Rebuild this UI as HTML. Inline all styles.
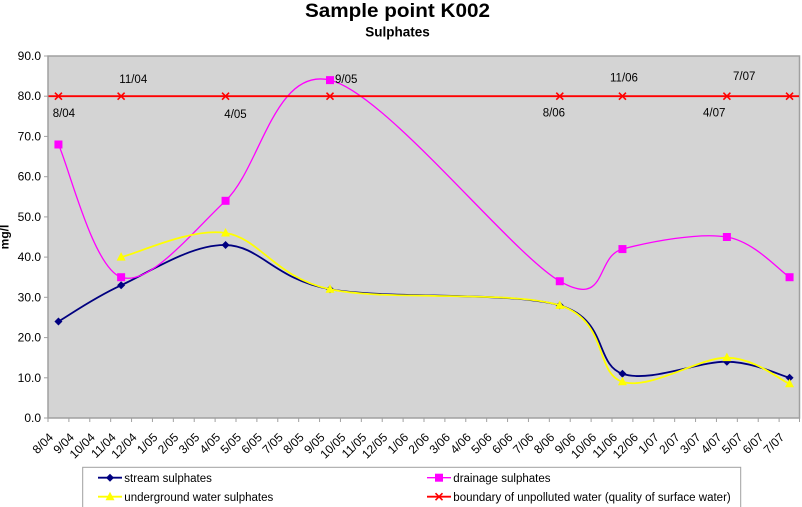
<!DOCTYPE html>
<html>
<head>
<meta charset="utf-8">
<style>
html,body{margin:0;padding:0;background:#fff;}
svg{display:block;font-family:"Liberation Sans",Arial,sans-serif;}
</style>
</head>
<body>
<svg width="802" height="507" viewBox="0 0 802 507" xmlns="http://www.w3.org/2000/svg">
<rect width="802" height="507" fill="#fff"/>
<!-- Titles -->
<text x="397.5" y="17" font-size="19.5" font-weight="bold" text-anchor="middle" textLength="185" lengthAdjust="spacingAndGlyphs">Sample point K002</text>
<text x="397.5" y="36.5" font-size="13.5" font-weight="bold" text-anchor="middle">Sulphates</text>

<!-- Plot area -->
<rect x="48" y="56" width="751.5" height="362" fill="#d4d4d4" stroke="#a0a0a0" stroke-width="1.5"/>

<!-- Y axis ticks and labels -->
<g stroke="#a0a0a0" stroke-width="1">
<line x1="44" y1="56" x2="48" y2="56"/><line x1="44" y1="96.2" x2="48" y2="96.2"/>
<line x1="44" y1="136.4" x2="48" y2="136.4"/><line x1="44" y1="176.7" x2="48" y2="176.7"/>
<line x1="44" y1="216.9" x2="48" y2="216.9"/><line x1="44" y1="257.1" x2="48" y2="257.1"/>
<line x1="44" y1="297.3" x2="48" y2="297.3"/><line x1="44" y1="337.6" x2="48" y2="337.6"/>
<line x1="44" y1="377.8" x2="48" y2="377.8"/><line x1="44" y1="418" x2="48" y2="418"/>
</g>
<g font-size="12" text-anchor="end" fill="#000">
<text x="41" y="60">90.0</text><text x="41" y="100.2">80.0</text>
<text x="41" y="140.4">70.0</text><text x="41" y="180.7">60.0</text>
<text x="41" y="220.9">50.0</text><text x="41" y="261.1">40.0</text>
<text x="41" y="301.3">30.0</text><text x="41" y="341.6">20.0</text>
<text x="41" y="381.8">10.0</text><text x="41" y="422">0.0</text>
</g>
<text transform="translate(8.5,237) rotate(-90)" font-size="12" font-weight="bold" text-anchor="middle">mg/l</text>

<!-- X axis ticks -->
<g stroke="#a0a0a0" stroke-width="1">
<line x1="48" y1="418" x2="48" y2="422"/><line x1="68.89" y1="418" x2="68.89" y2="422"/><line x1="89.78" y1="418" x2="89.78" y2="422"/><line x1="110.67" y1="418" x2="110.67" y2="422"/><line x1="131.56" y1="418" x2="131.56" y2="422"/><line x1="152.44" y1="418" x2="152.44" y2="422"/><line x1="173.33" y1="418" x2="173.33" y2="422"/><line x1="194.22" y1="418" x2="194.22" y2="422"/><line x1="215.11" y1="418" x2="215.11" y2="422"/><line x1="236" y1="418" x2="236" y2="422"/><line x1="256.89" y1="418" x2="256.89" y2="422"/><line x1="277.78" y1="418" x2="277.78" y2="422"/><line x1="298.67" y1="418" x2="298.67" y2="422"/><line x1="319.56" y1="418" x2="319.56" y2="422"/><line x1="340.44" y1="418" x2="340.44" y2="422"/><line x1="361.33" y1="418" x2="361.33" y2="422"/><line x1="382.22" y1="418" x2="382.22" y2="422"/><line x1="403.11" y1="418" x2="403.11" y2="422"/><line x1="424" y1="418" x2="424" y2="422"/><line x1="444.89" y1="418" x2="444.89" y2="422"/><line x1="465.78" y1="418" x2="465.78" y2="422"/><line x1="486.67" y1="418" x2="486.67" y2="422"/><line x1="507.56" y1="418" x2="507.56" y2="422"/><line x1="528.44" y1="418" x2="528.44" y2="422"/><line x1="549.33" y1="418" x2="549.33" y2="422"/><line x1="570.22" y1="418" x2="570.22" y2="422"/><line x1="591.11" y1="418" x2="591.11" y2="422"/><line x1="612" y1="418" x2="612" y2="422"/><line x1="632.89" y1="418" x2="632.89" y2="422"/><line x1="653.78" y1="418" x2="653.78" y2="422"/><line x1="674.67" y1="418" x2="674.67" y2="422"/><line x1="695.56" y1="418" x2="695.56" y2="422"/><line x1="716.44" y1="418" x2="716.44" y2="422"/><line x1="737.33" y1="418" x2="737.33" y2="422"/><line x1="758.22" y1="418" x2="758.22" y2="422"/><line x1="779.11" y1="418" x2="779.11" y2="422"/><line x1="799.5" y1="418" x2="799.5" y2="422"/>
</g>

<!-- X tick labels -->
<g font-size="12" text-anchor="end" fill="#000">
<text transform="translate(53.94,438) rotate(-45)">8/04</text>
<text transform="translate(74.83,438) rotate(-45)">9/04</text>
<text transform="translate(95.72,438) rotate(-45)">10/04</text>
<text transform="translate(116.61,438) rotate(-45)">11/04</text>
<text transform="translate(137.5,438) rotate(-45)">12/04</text>
<text transform="translate(158.39,438) rotate(-45)">1/05</text>
<text transform="translate(179.28,438) rotate(-45)">2/05</text>
<text transform="translate(200.17,438) rotate(-45)">3/05</text>
<text transform="translate(221.06,438) rotate(-45)">4/05</text>
<text transform="translate(241.94,438) rotate(-45)">5/05</text>
<text transform="translate(262.83,438) rotate(-45)">6/05</text>
<text transform="translate(283.72,438) rotate(-45)">7/05</text>
<text transform="translate(304.61,438) rotate(-45)">8/05</text>
<text transform="translate(325.5,438) rotate(-45)">9/05</text>
<text transform="translate(346.39,438) rotate(-45)">10/05</text>
<text transform="translate(367.28,438) rotate(-45)">11/05</text>
<text transform="translate(388.17,438) rotate(-45)">12/05</text>
<text transform="translate(409.06,438) rotate(-45)">1/06</text>
<text transform="translate(429.94,438) rotate(-45)">2/06</text>
<text transform="translate(450.83,438) rotate(-45)">3/06</text>
<text transform="translate(471.72,438) rotate(-45)">4/06</text>
<text transform="translate(492.61,438) rotate(-45)">5/06</text>
<text transform="translate(513.5,438) rotate(-45)">6/06</text>
<text transform="translate(534.39,438) rotate(-45)">7/06</text>
<text transform="translate(555.28,438) rotate(-45)">8/06</text>
<text transform="translate(576.17,438) rotate(-45)">9/06</text>
<text transform="translate(597.06,438) rotate(-45)">10/06</text>
<text transform="translate(617.94,438) rotate(-45)">11/06</text>
<text transform="translate(638.83,438) rotate(-45)">12/06</text>
<text transform="translate(659.72,438) rotate(-45)">1/07</text>
<text transform="translate(680.61,438) rotate(-45)">2/07</text>
<text transform="translate(701.5,438) rotate(-45)">3/07</text>
<text transform="translate(722.39,438) rotate(-45)">4/07</text>
<text transform="translate(743.28,438) rotate(-45)">5/07</text>
<text transform="translate(764.17,438) rotate(-45)">6/07</text>
<text transform="translate(785.06,438) rotate(-45)">7/07</text>
</g>

<!-- Stream sulphates (navy) -->
<path fill="none" stroke="#000080" stroke-width="1.8" d="M58.44 321.47 C68.89 315.44 93.26 298.01 121.11 285.27 C148.96 272.53 190.75 244.37 225.56 245.04 C260.38 245.71 274.30 279.23 330.0 289.29 C385.70 299.35 511.04 291.30 559.78 305.38 C608.52 319.46 594.59 364.38 622.44 373.76 C650.29 383.15 699.04 361.02 726.89 361.69 C754.74 362.36 779.12 375.10 789.56 377.78"/>
<g fill="#000080">
<polygon points="58.44,317.47 62.44,321.47 58.44,325.47 54.44,321.47"/>
<polygon points="121.11,281.27 125.11,285.27 121.11,289.27 117.11,285.27"/>
<polygon points="225.56,241.04 229.56,245.04 225.56,249.04 221.56,245.04"/>
<polygon points="330,285.29 334,289.29 330,293.29 326,289.29"/>
<polygon points="559.78,301.38 563.78,305.38 559.78,309.38 555.78,305.38"/>
<polygon points="622.44,369.76 626.44,373.76 622.44,377.76 618.44,373.76"/>
<polygon points="726.89,357.69 730.89,361.69 726.89,365.69 722.89,361.69"/>
<polygon points="789.56,373.78 793.56,377.78 789.56,381.78 785.56,377.78"/>
</g>

<!-- Drainage sulphates (magenta) -->
<path fill="none" stroke="#ff00ff" stroke-width="1.3" d="M58.44 144.49 C68.89 166.61 93.26 267.84 121.11 277.22 C148.96 286.61 190.75 233.65 225.56 200.80 C260.38 167.95 274.30 66.72 330.0 80.13 C385.70 93.54 511.04 253.08 559.78 281.24 C608.52 309.40 594.59 256.44 622.44 249.07 C650.29 241.70 699.04 232.31 726.89 237.0 C754.74 241.69 779.12 270.52 789.56 277.22"/>
<g fill="#ff00ff">
<rect x="54.44" y="140.49" width="8" height="8"/>
<rect x="117.11" y="273.22" width="8" height="8"/>
<rect x="221.56" y="196.80" width="8" height="8"/>
<rect x="326" y="76.13" width="8" height="8"/>
<rect x="555.78" y="277.24" width="8" height="8"/>
<rect x="618.44" y="245.07" width="8" height="8"/>
<rect x="722.89" y="233" width="8" height="8"/>
<rect x="785.56" y="273.22" width="8" height="8"/>
</g>

<!-- Underground water sulphates (yellow) -->
<path fill="none" stroke="#ffff00" stroke-width="1.8" d="M121.11 257.11 C138.52 253.09 190.75 227.62 225.56 232.98 C260.38 238.34 274.30 277.22 330.0 289.29 C385.70 301.36 511.04 289.96 559.78 305.38 C608.52 320.80 594.59 373.09 622.44 381.80 C650.29 390.52 699.04 357.34 726.89 357.67 C754.74 358.0 779.12 379.45 789.56 383.81"/>
<g fill="#ffff00">
<polygon points="121.11,252.11 125.61,260.61 116.61,260.61"/>
<polygon points="225.56,227.98 230.06,236.48 221.06,236.48"/>
<polygon points="330,284.29 334.5,292.79 325.5,292.79"/>
<polygon points="559.78,300.38 564.28,308.88 555.28,308.88"/>
<polygon points="622.44,376.80 626.94,385.30 617.94,385.30"/>
<polygon points="726.89,352.67 731.39,361.17 722.39,361.17"/>
<polygon points="789.56,378.81 794.06,387.31 785.06,387.31"/>
</g>

<!-- Boundary line (red) -->
<line x1="48.5" y1="96.2" x2="799" y2="96.2" stroke="#ff0000" stroke-width="1.8"/>
<g stroke="#ff0000" stroke-width="1.6" fill="none">
<path d="M54.94 92.7 L61.94 99.7 M61.94 92.7 L54.94 99.7"/>
<path d="M117.61 92.7 L124.61 99.7 M124.61 92.7 L117.61 99.7"/>
<path d="M222.06 92.7 L229.06 99.7 M229.06 92.7 L222.06 99.7"/>
<path d="M326.5 92.7 L333.5 99.7 M333.5 92.7 L326.5 99.7"/>
<path d="M556.28 92.7 L563.28 99.7 M563.28 92.7 L556.28 99.7"/>
<path d="M618.94 92.7 L625.94 99.7 M625.94 92.7 L618.94 99.7"/>
<path d="M723.39 92.7 L730.39 99.7 M730.39 92.7 L723.39 99.7"/>
<path d="M786.06 92.7 L793.06 99.7 M793.06 92.7 L786.06 99.7"/>
</g>

<!-- Data labels -->
<g font-size="11.5" fill="#000">
<text x="52.7" y="117">8/04</text>
<text x="119.3" y="83">11/04</text>
<text x="224.3" y="118">4/05</text>
<text x="335" y="83">9/05</text>
<text x="542.7" y="116.7">8/06</text>
<text x="610" y="81.3">11/06</text>
<text x="703" y="116.3">4/07</text>
<text x="733" y="80">7/07</text>
</g>

<!-- Legend -->
<rect x="82.7" y="467.3" width="658" height="45" fill="#fff" stroke="#a0a0a0" stroke-width="1"/>
<line x1="98" y1="477.7" x2="122" y2="477.7" stroke="#000080" stroke-width="1.8"/>
<polygon points="110,473.7 114,477.7 110,481.7 106,477.7" fill="#000080"/>
<text x="124.3" y="481.8" font-size="11.5">stream sulphates</text>
<line x1="98" y1="496.7" x2="122" y2="496.7" stroke="#ffff00" stroke-width="1.8"/>
<polygon points="110,491.7 114.5,500.2 105.5,500.2" fill="#ffff00"/>
<text x="124.3" y="500.8" font-size="11.5">underground water sulphates</text>
<line x1="427" y1="477.7" x2="451" y2="477.7" stroke="#ff00ff" stroke-width="1.3"/>
<rect x="435" y="473.7" width="8" height="8" fill="#ff00ff"/>
<text x="453.3" y="481.8" font-size="11.5">drainage sulphates</text>
<line x1="427" y1="496.7" x2="451" y2="496.7" stroke="#ff0000" stroke-width="1.8"/>
<path d="M435.5 493.2 L442.5 500.2 M442.5 493.2 L435.5 500.2" stroke="#ff0000" stroke-width="1.6"/>
<text x="453.3" y="500.8" font-size="11.5">boundary of unpolluted water (quality of surface water)</text>
</svg>
</body>
</html>
